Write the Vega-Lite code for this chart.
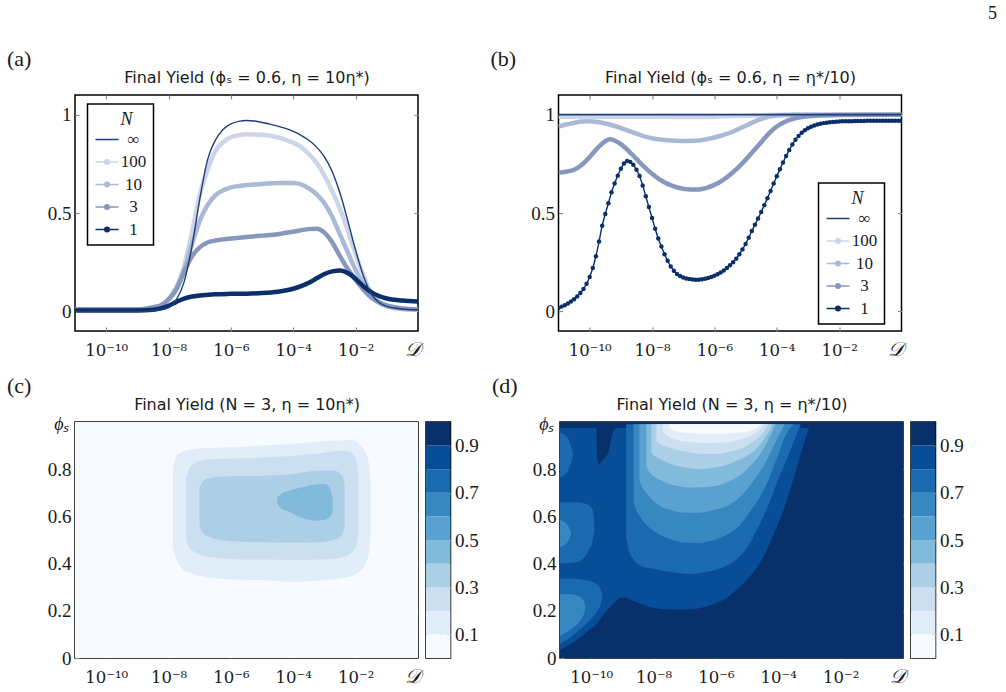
{
"$schema": "https://vega.github.io/schema/vega-lite/v6.json",
"background": "white",
"padding": {"left": 6, "top": 4, "right": 0, "bottom": 0},
"title": {"text": "5", "anchor": "end", "font": "Liberation Serif", "fontSize": 18, "fontWeight": "normal", "color": "#1a1a1a", "offset": 25, "dx": 33},
"config": {
  "font": "Liberation Serif",
  "view": {"stroke": "#000", "strokeWidth": 1.5},
  "axis": {"domain": false, "grid": false, "ticks": true, "tickColor": "#8a8a8a", "tickWidth": 1.2, "tickSize": -4, "labelFont": "Liberation Serif", "labelFontSize": 19, "labelColor": "#1a1a1a", "labelPadding": 8, "labelFlush": false, "labelOverlap": false, "titleFont": "Liberation Serif", "titleFontWeight": "normal", "titleFontSize": 18, "titleColor": "#1a1a1a"},
  "axisBottom": {"labelFont": "DejaVu Serif", "labelFontSize": 16.5, "labelPadding": 15},
  "title": {"font": "Liberation Serif", "fontSize": 22, "fontWeight": "normal", "color": "#1a1a1a"}
},
"datasets": {
"la": [
{"N":"∞","e":-11,"Y":0},{"N":"∞","e":-10,"Y":0},{"N":"∞","e":-9,"Y":0},{"N":"∞","e":-8.5,"Y":0.002},{"N":"∞","e":-8.25,"Y":0.008},{"N":"∞","e":-8,"Y":0.02},{"N":"∞","e":-7.75,"Y":0.06},{"N":"∞","e":-7.5,"Y":0.15},{"N":"∞","e":-7.25,"Y":0.33},{"N":"∞","e":-7,"Y":0.57},{"N":"∞","e":-6.75,"Y":0.77},{"N":"∞","e":-6.5,"Y":0.87},{"N":"∞","e":-6.25,"Y":0.925},{"N":"∞","e":-6,"Y":0.953},{"N":"∞","e":-5.75,"Y":0.966},{"N":"∞","e":-5.5,"Y":0.97},{"N":"∞","e":-5.25,"Y":0.968},{"N":"∞","e":-5,"Y":0.96},{"N":"∞","e":-4.75,"Y":0.952},{"N":"∞","e":-4.5,"Y":0.942},{"N":"∞","e":-4.25,"Y":0.93},{"N":"∞","e":-4,"Y":0.915},{"N":"∞","e":-3.75,"Y":0.895},{"N":"∞","e":-3.5,"Y":0.87},{"N":"∞","e":-3.25,"Y":0.835},{"N":"∞","e":-3,"Y":0.785},{"N":"∞","e":-2.75,"Y":0.71},{"N":"∞","e":-2.5,"Y":0.6},{"N":"∞","e":-2.25,"Y":0.46},{"N":"∞","e":-2,"Y":0.31},{"N":"∞","e":-1.75,"Y":0.18},{"N":"∞","e":-1.5,"Y":0.09},{"N":"∞","e":-1.25,"Y":0.045},{"N":"∞","e":-1,"Y":0.025},{"N":"∞","e":-0.5,"Y":0.012},{"N":"∞","e":0,"Y":0.008},
{"N":"100","e":-11,"Y":0.01},{"N":"100","e":-10,"Y":0.01},{"N":"100","e":-9,"Y":0.01},{"N":"100","e":-8.5,"Y":0.02},{"N":"100","e":-8.25,"Y":0.03},{"N":"100","e":-8,"Y":0.06},{"N":"100","e":-7.75,"Y":0.12},{"N":"100","e":-7.5,"Y":0.23},{"N":"100","e":-7.25,"Y":0.4},{"N":"100","e":-7,"Y":0.59},{"N":"100","e":-6.75,"Y":0.72},{"N":"100","e":-6.5,"Y":0.815},{"N":"100","e":-6.25,"Y":0.86},{"N":"100","e":-6,"Y":0.885},{"N":"100","e":-5.75,"Y":0.895},{"N":"100","e":-5.5,"Y":0.9},{"N":"100","e":-5,"Y":0.898},{"N":"100","e":-4.5,"Y":0.885},{"N":"100","e":-4.25,"Y":0.872},{"N":"100","e":-4,"Y":0.858},{"N":"100","e":-3.75,"Y":0.835},{"N":"100","e":-3.5,"Y":0.8},{"N":"100","e":-3.25,"Y":0.755},{"N":"100","e":-3,"Y":0.69},{"N":"100","e":-2.75,"Y":0.61},{"N":"100","e":-2.5,"Y":0.52},{"N":"100","e":-2.25,"Y":0.41},{"N":"100","e":-2,"Y":0.29},{"N":"100","e":-1.75,"Y":0.18},{"N":"100","e":-1.5,"Y":0.095},{"N":"100","e":-1.25,"Y":0.05},{"N":"100","e":-1,"Y":0.028},{"N":"100","e":-0.5,"Y":0.012},{"N":"100","e":0,"Y":0.008},
{"N":"10","e":-11,"Y":0.01},{"N":"10","e":-10,"Y":0.01},{"N":"10","e":-9,"Y":0.01},{"N":"10","e":-8.5,"Y":0.02},{"N":"10","e":-8.25,"Y":0.03},{"N":"10","e":-8,"Y":0.06},{"N":"10","e":-7.75,"Y":0.12},{"N":"10","e":-7.5,"Y":0.21},{"N":"10","e":-7.25,"Y":0.34},{"N":"10","e":-7,"Y":0.46},{"N":"10","e":-6.75,"Y":0.54},{"N":"10","e":-6.5,"Y":0.59},{"N":"10","e":-6.25,"Y":0.615},{"N":"10","e":-6,"Y":0.63},{"N":"10","e":-5.5,"Y":0.642},{"N":"10","e":-5,"Y":0.648},{"N":"10","e":-4.5,"Y":0.653},{"N":"10","e":-4,"Y":0.652},{"N":"10","e":-3.75,"Y":0.645},{"N":"10","e":-3.5,"Y":0.625},{"N":"10","e":-3.25,"Y":0.595},{"N":"10","e":-3,"Y":0.55},{"N":"10","e":-2.75,"Y":0.48},{"N":"10","e":-2.5,"Y":0.39},{"N":"10","e":-2.25,"Y":0.3},{"N":"10","e":-2,"Y":0.21},{"N":"10","e":-1.75,"Y":0.135},{"N":"10","e":-1.5,"Y":0.08},{"N":"10","e":-1.25,"Y":0.045},{"N":"10","e":-1,"Y":0.025},{"N":"10","e":-0.5,"Y":0.012},{"N":"10","e":0,"Y":0.01},
{"N":"3","e":-11,"Y":0.01},{"N":"3","e":-10,"Y":0.01},{"N":"3","e":-9,"Y":0.01},{"N":"3","e":-8.5,"Y":0.02},{"N":"3","e":-8.25,"Y":0.03},{"N":"3","e":-8,"Y":0.06},{"N":"3","e":-7.75,"Y":0.11},{"N":"3","e":-7.5,"Y":0.2},{"N":"3","e":-7.25,"Y":0.28},{"N":"3","e":-7,"Y":0.325},{"N":"3","e":-6.75,"Y":0.35},{"N":"3","e":-6.5,"Y":0.36},{"N":"3","e":-6,"Y":0.37},{"N":"3","e":-5.5,"Y":0.378},{"N":"3","e":-5,"Y":0.385},{"N":"3","e":-4.5,"Y":0.392},{"N":"3","e":-4,"Y":0.405},{"N":"3","e":-3.5,"Y":0.418},{"N":"3","e":-3.25,"Y":0.42},{"N":"3","e":-3,"Y":0.4},{"N":"3","e":-2.75,"Y":0.35},{"N":"3","e":-2.5,"Y":0.28},{"N":"3","e":-2.25,"Y":0.215},{"N":"3","e":-2,"Y":0.16},{"N":"3","e":-1.75,"Y":0.11},{"N":"3","e":-1.5,"Y":0.07},{"N":"3","e":-1.25,"Y":0.045},{"N":"3","e":-1,"Y":0.03},{"N":"3","e":-0.5,"Y":0.015},{"N":"3","e":0,"Y":0.01},
{"N":"1","e":-11,"Y":0.004},{"N":"1","e":-10,"Y":0.004},{"N":"1","e":-9,"Y":0.004},{"N":"1","e":-8.5,"Y":0.008},{"N":"1","e":-8.25,"Y":0.015},{"N":"1","e":-8,"Y":0.028},{"N":"1","e":-7.75,"Y":0.048},{"N":"1","e":-7.5,"Y":0.065},{"N":"1","e":-7.25,"Y":0.075},{"N":"1","e":-7,"Y":0.08},{"N":"1","e":-6.5,"Y":0.087},{"N":"1","e":-6,"Y":0.089},{"N":"1","e":-5.5,"Y":0.09},{"N":"1","e":-5,"Y":0.093},{"N":"1","e":-4.5,"Y":0.1},{"N":"1","e":-4,"Y":0.115},{"N":"1","e":-3.75,"Y":0.128},{"N":"1","e":-3.5,"Y":0.145},{"N":"1","e":-3.25,"Y":0.168},{"N":"1","e":-3,"Y":0.19},{"N":"1","e":-2.75,"Y":0.203},{"N":"1","e":-2.5,"Y":0.208},{"N":"1","e":-2.25,"Y":0.195},{"N":"1","e":-2,"Y":0.165},{"N":"1","e":-1.75,"Y":0.128},{"N":"1","e":-1.5,"Y":0.098},{"N":"1","e":-1.25,"Y":0.078},{"N":"1","e":-1,"Y":0.065},{"N":"1","e":-0.5,"Y":0.055},{"N":"1","e":0,"Y":0.05}
],
"lb": [
{"N":"∞","e":-11,"Y":1},{"N":"∞","e":0,"Y":1},
{"N":"100","e":-11,"Y":0.99},{"N":"100","e":-9,"Y":0.99},{"N":"100","e":-7,"Y":0.988},{"N":"100","e":-6,"Y":0.99},{"N":"100","e":-5,"Y":0.995},{"N":"100","e":-4,"Y":0.999},{"N":"100","e":-3,"Y":1},{"N":"100","e":0,"Y":1},
{"N":"10","e":-11,"Y":0.94},{"N":"10","e":-10.75,"Y":0.95},{"N":"10","e":-10.5,"Y":0.958},{"N":"10","e":-10.25,"Y":0.965},{"N":"10","e":-10,"Y":0.967},{"N":"10","e":-9.75,"Y":0.963},{"N":"10","e":-9.5,"Y":0.955},{"N":"10","e":-9.25,"Y":0.945},{"N":"10","e":-9,"Y":0.932},{"N":"10","e":-8.75,"Y":0.918},{"N":"10","e":-8.5,"Y":0.903},{"N":"10","e":-8.25,"Y":0.89},{"N":"10","e":-8,"Y":0.88},{"N":"10","e":-7.5,"Y":0.87},{"N":"10","e":-7,"Y":0.866},{"N":"10","e":-6.75,"Y":0.867},{"N":"10","e":-6.5,"Y":0.869},{"N":"10","e":-6.25,"Y":0.875},{"N":"10","e":-6,"Y":0.884},{"N":"10","e":-5.75,"Y":0.895},{"N":"10","e":-5.5,"Y":0.908},{"N":"10","e":-5.25,"Y":0.925},{"N":"10","e":-5,"Y":0.944},{"N":"10","e":-4.75,"Y":0.962},{"N":"10","e":-4.5,"Y":0.978},{"N":"10","e":-4.25,"Y":0.99},{"N":"10","e":-4,"Y":0.996},{"N":"10","e":-3.5,"Y":0.999},{"N":"10","e":-3,"Y":1},{"N":"10","e":0,"Y":1},
{"N":"3","e":-11,"Y":0.706},{"N":"3","e":-10.75,"Y":0.71},{"N":"3","e":-10.5,"Y":0.72},{"N":"3","e":-10.25,"Y":0.745},{"N":"3","e":-10,"Y":0.785},{"N":"3","e":-9.75,"Y":0.83},{"N":"3","e":-9.5,"Y":0.865},{"N":"3","e":-9.35,"Y":0.875},{"N":"3","e":-9.25,"Y":0.872},{"N":"3","e":-9,"Y":0.85},{"N":"3","e":-8.75,"Y":0.815},{"N":"3","e":-8.5,"Y":0.775},{"N":"3","e":-8.25,"Y":0.735},{"N":"3","e":-8,"Y":0.7},{"N":"3","e":-7.75,"Y":0.67},{"N":"3","e":-7.5,"Y":0.648},{"N":"3","e":-7.25,"Y":0.633},{"N":"3","e":-7,"Y":0.623},{"N":"3","e":-6.75,"Y":0.619},{"N":"3","e":-6.5,"Y":0.62},{"N":"3","e":-6.25,"Y":0.628},{"N":"3","e":-6,"Y":0.643},{"N":"3","e":-5.75,"Y":0.665},{"N":"3","e":-5.5,"Y":0.695},{"N":"3","e":-5.25,"Y":0.73},{"N":"3","e":-5,"Y":0.77},{"N":"3","e":-4.75,"Y":0.815},{"N":"3","e":-4.5,"Y":0.86},{"N":"3","e":-4.25,"Y":0.905},{"N":"3","e":-4,"Y":0.94},{"N":"3","e":-3.75,"Y":0.963},{"N":"3","e":-3.5,"Y":0.978},{"N":"3","e":-3.25,"Y":0.987},{"N":"3","e":-3,"Y":0.992},{"N":"3","e":-2.5,"Y":0.996},{"N":"3","e":-2,"Y":0.998},{"N":"3","e":0,"Y":1},
{"N":"1","e":-11,"Y":0.017},{"N":"1","e":-10.9,"Y":0.024},{"N":"1","e":-10.8,"Y":0.031},{"N":"1","e":-10.7,"Y":0.04},{"N":"1","e":-10.6,"Y":0.05},{"N":"1","e":-10.5,"Y":0.062},{"N":"1","e":-10.4,"Y":0.076},{"N":"1","e":-10.3,"Y":0.093},{"N":"1","e":-10.2,"Y":0.113},{"N":"1","e":-10.1,"Y":0.14},{"N":"1","e":-10,"Y":0.175},{"N":"1","e":-9.9,"Y":0.22},{"N":"1","e":-9.8,"Y":0.28},{"N":"1","e":-9.7,"Y":0.355},{"N":"1","e":-9.6,"Y":0.435},{"N":"1","e":-9.5,"Y":0.495},{"N":"1","e":-9.4,"Y":0.55},{"N":"1","e":-9.3,"Y":0.605},{"N":"1","e":-9.2,"Y":0.65},{"N":"1","e":-9.1,"Y":0.69},{"N":"1","e":-9,"Y":0.725},{"N":"1","e":-8.9,"Y":0.752},{"N":"1","e":-8.8,"Y":0.765},{"N":"1","e":-8.7,"Y":0.76},{"N":"1","e":-8.6,"Y":0.745},{"N":"1","e":-8.5,"Y":0.72},{"N":"1","e":-8.4,"Y":0.688},{"N":"1","e":-8.3,"Y":0.64},{"N":"1","e":-8.2,"Y":0.585},{"N":"1","e":-8.1,"Y":0.53},{"N":"1","e":-8,"Y":0.475},{"N":"1","e":-7.9,"Y":0.42},{"N":"1","e":-7.8,"Y":0.37},{"N":"1","e":-7.7,"Y":0.33},{"N":"1","e":-7.6,"Y":0.29},{"N":"1","e":-7.5,"Y":0.257},{"N":"1","e":-7.4,"Y":0.228},{"N":"1","e":-7.3,"Y":0.206},{"N":"1","e":-7.2,"Y":0.19},{"N":"1","e":-7.1,"Y":0.18},{"N":"1","e":-7,"Y":0.172},{"N":"1","e":-6.9,"Y":0.167},{"N":"1","e":-6.8,"Y":0.164},{"N":"1","e":-6.7,"Y":0.162},{"N":"1","e":-6.6,"Y":0.161},{"N":"1","e":-6.5,"Y":0.161},{"N":"1","e":-6.4,"Y":0.163},{"N":"1","e":-6.3,"Y":0.166},{"N":"1","e":-6.2,"Y":0.17},{"N":"1","e":-6.1,"Y":0.175},{"N":"1","e":-6,"Y":0.181},{"N":"1","e":-5.9,"Y":0.188},{"N":"1","e":-5.8,"Y":0.197},{"N":"1","e":-5.7,"Y":0.208},{"N":"1","e":-5.6,"Y":0.22},{"N":"1","e":-5.5,"Y":0.234},{"N":"1","e":-5.4,"Y":0.25},{"N":"1","e":-5.3,"Y":0.268},{"N":"1","e":-5.2,"Y":0.29},{"N":"1","e":-5.1,"Y":0.315},{"N":"1","e":-5,"Y":0.343},{"N":"1","e":-4.9,"Y":0.374},{"N":"1","e":-4.8,"Y":0.408},{"N":"1","e":-4.7,"Y":0.44},{"N":"1","e":-4.6,"Y":0.472},{"N":"1","e":-4.5,"Y":0.505},{"N":"1","e":-4.4,"Y":0.54},{"N":"1","e":-4.3,"Y":0.575},{"N":"1","e":-4.2,"Y":0.612},{"N":"1","e":-4.1,"Y":0.65},{"N":"1","e":-4,"Y":0.687},{"N":"1","e":-3.9,"Y":0.722},{"N":"1","e":-3.8,"Y":0.757},{"N":"1","e":-3.7,"Y":0.79},{"N":"1","e":-3.6,"Y":0.82},{"N":"1","e":-3.5,"Y":0.848},{"N":"1","e":-3.4,"Y":0.872},{"N":"1","e":-3.3,"Y":0.892},{"N":"1","e":-3.2,"Y":0.908},{"N":"1","e":-3.1,"Y":0.921},{"N":"1","e":-3,"Y":0.931},{"N":"1","e":-2.9,"Y":0.939},{"N":"1","e":-2.8,"Y":0.945},{"N":"1","e":-2.7,"Y":0.95},{"N":"1","e":-2.6,"Y":0.954},{"N":"1","e":-2.5,"Y":0.957},{"N":"1","e":-2.4,"Y":0.959},{"N":"1","e":-2.3,"Y":0.961},{"N":"1","e":-2.2,"Y":0.963},{"N":"1","e":-2.1,"Y":0.964},{"N":"1","e":-2,"Y":0.965},{"N":"1","e":-1.9,"Y":0.966},{"N":"1","e":-1.8,"Y":0.966},{"N":"1","e":-1.7,"Y":0.967},{"N":"1","e":-1.6,"Y":0.967},{"N":"1","e":-1.5,"Y":0.968},{"N":"1","e":-1.4,"Y":0.968},{"N":"1","e":-1.3,"Y":0.968},{"N":"1","e":-1.2,"Y":0.968},{"N":"1","e":-1.1,"Y":0.969},{"N":"1","e":-1,"Y":0.969},{"N":"1","e":-0.9,"Y":0.969},{"N":"1","e":-0.8,"Y":0.969},{"N":"1","e":-0.7,"Y":0.969},{"N":"1","e":-0.6,"Y":0.969},{"N":"1","e":-0.5,"Y":0.969},{"N":"1","e":-0.4,"Y":0.969},{"N":"1","e":-0.3,"Y":0.969},{"N":"1","e":-0.2,"Y":0.969},{"N":"1","e":-0.1,"Y":0.969},{"N":"1","e":0,"Y":0.969}
],
"cc": [
{"s":"00","v":0,"e":-11,"lo":0,"hi":1},{"s":"00","v":0,"e":0,"lo":0,"hi":1},
{"s":"01","v":1,"e":-7.86,"lo":0.47,"hi":0.79},{"s":"01","v":1,"e":-7.78,"lo":0.43,"hi":0.85},{"s":"01","v":1,"e":-7.6,"lo":0.385,"hi":0.872},{"s":"01","v":1,"e":-7.3,"lo":0.36,"hi":0.882},{"s":"01","v":1,"e":-7,"lo":0.348,"hi":0.888},{"s":"01","v":1,"e":-6,"lo":0.333,"hi":0.893},{"s":"01","v":1,"e":-5,"lo":0.33,"hi":0.9},{"s":"01","v":1,"e":-4,"lo":0.322,"hi":0.908},{"s":"01","v":1,"e":-3,"lo":0.33,"hi":0.918},{"s":"01","v":1,"e":-2.5,"lo":0.337,"hi":0.922},{"s":"01","v":1,"e":-2.2,"lo":0.345,"hi":0.925},{"s":"01","v":1,"e":-2,"lo":0.355,"hi":0.92},{"s":"01","v":1,"e":-1.8,"lo":0.375,"hi":0.895},{"s":"01","v":1,"e":-1.65,"lo":0.41,"hi":0.86},{"s":"01","v":1,"e":-1.57,"lo":0.45,"hi":0.82},{"s":"01","v":1,"e":-1.52,"lo":0.52,"hi":0.75},
{"s":"02","v":2,"e":-7.44,"lo":0.5,"hi":0.76},{"s":"02","v":2,"e":-7.35,"lo":0.47,"hi":0.8},{"s":"02","v":2,"e":-7.1,"lo":0.445,"hi":0.83},{"s":"02","v":2,"e":-6.8,"lo":0.43,"hi":0.84},{"s":"02","v":2,"e":-6,"lo":0.42,"hi":0.845},{"s":"02","v":2,"e":-5,"lo":0.417,"hi":0.85},{"s":"02","v":2,"e":-4,"lo":0.415,"hi":0.857},{"s":"02","v":2,"e":-3,"lo":0.418,"hi":0.87},{"s":"02","v":2,"e":-2.5,"lo":0.425,"hi":0.878},{"s":"02","v":2,"e":-2.2,"lo":0.44,"hi":0.875},{"s":"02","v":2,"e":-2.05,"lo":0.46,"hi":0.855},{"s":"02","v":2,"e":-1.95,"lo":0.49,"hi":0.82},{"s":"02","v":2,"e":-1.91,"lo":0.53,"hi":0.78},
{"s":"03","v":3,"e":-7.01,"lo":0.56,"hi":0.72},{"s":"03","v":3,"e":-6.9,"lo":0.53,"hi":0.75},{"s":"03","v":3,"e":-6.6,"lo":0.51,"hi":0.765},{"s":"03","v":3,"e":-6,"lo":0.495,"hi":0.77},{"s":"03","v":3,"e":-5,"lo":0.49,"hi":0.772},{"s":"03","v":3,"e":-4,"lo":0.488,"hi":0.78},{"s":"03","v":3,"e":-3.2,"lo":0.49,"hi":0.795},{"s":"03","v":3,"e":-2.7,"lo":0.5,"hi":0.795},{"s":"03","v":3,"e":-2.45,"lo":0.52,"hi":0.775},{"s":"03","v":3,"e":-2.35,"lo":0.56,"hi":0.74},
{"s":"04","v":4,"e":-4.52,"lo":0.655,"hi":0.678},{"s":"04","v":4,"e":-4.4,"lo":0.635,"hi":0.695},{"s":"04","v":4,"e":-4.17,"lo":0.622,"hi":0.708},{"s":"04","v":4,"e":-3.74,"lo":0.595,"hi":0.722},{"s":"04","v":4,"e":-3.31,"lo":0.582,"hi":0.735},{"s":"04","v":4,"e":-3,"lo":0.585,"hi":0.737},{"s":"04","v":4,"e":-2.85,"lo":0.595,"hi":0.725},{"s":"04","v":4,"e":-2.74,"lo":0.62,"hi":0.68}
],
"cd": [
{"s":"00","v":9,"e":-11,"lo":0,"hi":1},{"s":"00","v":9,"e":0,"lo":0,"hi":1},
{"s":"01","v":8,"e":-11,"lo":0.035,"hi":0.975},{"s":"01","v":8,"e":-10.44,"lo":0.078,"hi":0.975},{"s":"01","v":8,"e":-10.1,"lo":0.115,"hi":0.975},{"s":"01","v":8,"e":-9.8,"lo":0.148,"hi":0.975},{"s":"01","v":8,"e":-9.6,"lo":0.185,"hi":0.975},{"s":"01","v":8,"e":-9.37,"lo":0.219,"hi":0.975},{"s":"01","v":8,"e":-9.05,"lo":0.254,"hi":0.975},{"s":"01","v":8,"e":-8.9,"lo":0.255,"hi":0.975},{"s":"01","v":8,"e":-8.73,"lo":0.247,"hi":0.975},{"s":"01","v":8,"e":-8.45,"lo":0.232,"hi":0.975},{"s":"01","v":8,"e":-8.19,"lo":0.219,"hi":0.975},{"s":"01","v":8,"e":-7.66,"lo":0.207,"hi":0.975},{"s":"01","v":8,"e":-7,"lo":0.205,"hi":0.975},{"s":"01","v":8,"e":-6.5,"lo":0.212,"hi":0.975},{"s":"01","v":8,"e":-5.97,"lo":0.234,"hi":0.975},{"s":"01","v":8,"e":-5.6,"lo":0.26,"hi":0.975},{"s":"01","v":8,"e":-5.33,"lo":0.29,"hi":0.975},{"s":"01","v":8,"e":-4.9,"lo":0.347,"hi":0.975},{"s":"01","v":8,"e":-4.6,"lo":0.4,"hi":0.975},{"s":"01","v":8,"e":-4.36,"lo":0.46,"hi":0.975},{"s":"01","v":8,"e":-4.1,"lo":0.54,"hi":0.975},{"s":"01","v":8,"e":-3.82,"lo":0.63,"hi":0.975},{"s":"01","v":8,"e":-3.6,"lo":0.72,"hi":0.975},{"s":"01","v":8,"e":-3.39,"lo":0.814,"hi":0.975},{"s":"01","v":8,"e":-3.2,"lo":0.9,"hi":0.975},{"s":"01","v":8,"e":-3.01,"lo":0.975,"hi":0.975},
{"s":"02","v":9,"e":-9.83,"lo":0.975,"hi":1},{"s":"02","v":9,"e":-9.8,"lo":0.84,"hi":1},{"s":"02","v":9,"e":-9.75,"lo":0.82,"hi":1},{"s":"02","v":9,"e":-9.68,"lo":0.83,"hi":1},{"s":"02","v":9,"e":-9.58,"lo":0.845,"hi":1},{"s":"02","v":9,"e":-9.5,"lo":0.858,"hi":1},{"s":"02","v":9,"e":-9.42,"lo":0.885,"hi":1},{"s":"02","v":9,"e":-9.36,"lo":0.93,"hi":1},{"s":"02","v":9,"e":-9.28,"lo":0.962,"hi":1},{"s":"02","v":9,"e":-9.2,"lo":0.975,"hi":1},
{"s":"03","v":7,"e":-11,"lo":0.765,"hi":0.955},{"s":"03","v":7,"e":-10.85,"lo":0.775,"hi":0.945},{"s":"03","v":7,"e":-10.72,"lo":0.8,"hi":0.925},{"s":"03","v":7,"e":-10.62,"lo":0.84,"hi":0.885},{"s":"03","v":7,"e":-10.58,"lo":0.862,"hi":0.863},
{"s":"04","v":7,"e":-11,"lo":0.4,"hi":0.66},{"s":"04","v":7,"e":-10.5,"lo":0.405,"hi":0.66},{"s":"04","v":7,"e":-10.2,"lo":0.43,"hi":0.655},{"s":"04","v":7,"e":-10.05,"lo":0.465,"hi":0.645},{"s":"04","v":7,"e":-9.95,"lo":0.5,"hi":0.625},{"s":"04","v":7,"e":-9.9,"lo":0.545,"hi":0.58},
{"s":"05","v":6,"e":-11,"lo":0.47,"hi":0.585},{"s":"05","v":6,"e":-10.85,"lo":0.48,"hi":0.575},{"s":"05","v":6,"e":-10.72,"lo":0.5,"hi":0.555},{"s":"05","v":6,"e":-10.64,"lo":0.525,"hi":0.53},
{"s":"06","v":7,"e":-11,"lo":0.06,"hi":0.335},{"s":"06","v":7,"e":-10.7,"lo":0.085,"hi":0.337},{"s":"06","v":7,"e":-10.44,"lo":0.113,"hi":0.335},{"s":"06","v":7,"e":-10.2,"lo":0.14,"hi":0.33},{"s":"06","v":7,"e":-10,"lo":0.165,"hi":0.325},{"s":"06","v":7,"e":-9.8,"lo":0.2,"hi":0.31},{"s":"06","v":7,"e":-9.68,"lo":0.235,"hi":0.285},{"s":"06","v":7,"e":-9.64,"lo":0.26,"hi":0.262},
{"s":"07","v":6,"e":-11,"lo":0.095,"hi":0.27},{"s":"07","v":6,"e":-10.66,"lo":0.12,"hi":0.27},{"s":"07","v":6,"e":-10.4,"lo":0.15,"hi":0.262},{"s":"07","v":6,"e":-10.25,"lo":0.18,"hi":0.245},{"s":"07","v":6,"e":-10.18,"lo":0.21,"hi":0.22},
{"s":"08","v":7,"e":-8.88,"lo":0.52,"hi":0.99},{"s":"08","v":7,"e":-8.8,"lo":0.46,"hi":0.99},{"s":"08","v":7,"e":-8.62,"lo":0.415,"hi":0.99},{"s":"08","v":7,"e":-8.4,"lo":0.39,"hi":0.99},{"s":"08","v":7,"e":-8.1,"lo":0.38,"hi":0.99},{"s":"08","v":7,"e":-7.7,"lo":0.37,"hi":0.99},{"s":"08","v":7,"e":-7.2,"lo":0.36,"hi":0.99},{"s":"08","v":7,"e":-6.8,"lo":0.356,"hi":0.99},{"s":"08","v":7,"e":-6.4,"lo":0.362,"hi":0.99},{"s":"08","v":7,"e":-5.97,"lo":0.375,"hi":0.99},{"s":"08","v":7,"e":-5.6,"lo":0.395,"hi":0.99},{"s":"08","v":7,"e":-5.33,"lo":0.418,"hi":0.99},{"s":"08","v":7,"e":-5.1,"lo":0.45,"hi":0.99},{"s":"08","v":7,"e":-4.9,"lo":0.489,"hi":0.99},{"s":"08","v":7,"e":-4.7,"lo":0.54,"hi":0.99},{"s":"08","v":7,"e":-4.47,"lo":0.602,"hi":0.99},{"s":"08","v":7,"e":-4.25,"lo":0.67,"hi":0.99},{"s":"08","v":7,"e":-4.04,"lo":0.744,"hi":0.99},{"s":"08","v":7,"e":-3.8,"lo":0.82,"hi":0.99},{"s":"08","v":7,"e":-3.6,"lo":0.885,"hi":0.99},{"s":"08","v":7,"e":-3.45,"lo":0.935,"hi":0.99},{"s":"08","v":7,"e":-3.28,"lo":0.99,"hi":0.99},
{"s":"09","v":6,"e":-8.64,"lo":0.66,"hi":0.99},{"s":"09","v":6,"e":-8.55,"lo":0.625,"hi":0.99},{"s":"09","v":6,"e":-8.45,"lo":0.602,"hi":0.99},{"s":"09","v":6,"e":-8.2,"lo":0.56,"hi":0.99},{"s":"09","v":6,"e":-7.91,"lo":0.531,"hi":0.99},{"s":"09","v":6,"e":-7.5,"lo":0.505,"hi":0.99},{"s":"09","v":6,"e":-7.05,"lo":0.489,"hi":0.99},{"s":"09","v":6,"e":-6.6,"lo":0.487,"hi":0.99},{"s":"09","v":6,"e":-6.19,"lo":0.496,"hi":0.99},{"s":"09","v":6,"e":-5.85,"lo":0.51,"hi":0.99},{"s":"09","v":6,"e":-5.54,"lo":0.531,"hi":0.99},{"s":"09","v":6,"e":-5.25,"lo":0.56,"hi":0.99},{"s":"09","v":6,"e":-5,"lo":0.602,"hi":0.99},{"s":"09","v":6,"e":-4.8,"lo":0.64,"hi":0.99},{"s":"09","v":6,"e":-4.57,"lo":0.687,"hi":0.99},{"s":"09","v":6,"e":-4.35,"lo":0.745,"hi":0.99},{"s":"09","v":6,"e":-4.14,"lo":0.814,"hi":0.99},{"s":"09","v":6,"e":-3.95,"lo":0.88,"hi":0.99},{"s":"09","v":6,"e":-3.77,"lo":0.942,"hi":0.99},{"s":"09","v":6,"e":-3.62,"lo":0.975,"hi":0.99},{"s":"09","v":6,"e":-3.5,"lo":0.99,"hi":0.99},
{"s":"10","v":5,"e":-8.45,"lo":0.75,"hi":0.99},{"s":"10","v":5,"e":-8.35,"lo":0.72,"hi":0.99},{"s":"10","v":5,"e":-8.23,"lo":0.7,"hi":0.99},{"s":"10","v":5,"e":-8,"lo":0.665,"hi":0.99},{"s":"10","v":5,"e":-7.8,"lo":0.645,"hi":0.99},{"s":"10","v":5,"e":-7.4,"lo":0.625,"hi":0.99},{"s":"10","v":5,"e":-7.05,"lo":0.616,"hi":0.99},{"s":"10","v":5,"e":-6.6,"lo":0.615,"hi":0.99},{"s":"10","v":5,"e":-6.19,"lo":0.623,"hi":0.99},{"s":"10","v":5,"e":-5.85,"lo":0.635,"hi":0.99},{"s":"10","v":5,"e":-5.54,"lo":0.652,"hi":0.99},{"s":"10","v":5,"e":-5.25,"lo":0.68,"hi":0.99},{"s":"10","v":5,"e":-5,"lo":0.715,"hi":0.99},{"s":"10","v":5,"e":-4.75,"lo":0.76,"hi":0.99},{"s":"10","v":5,"e":-4.47,"lo":0.814,"hi":0.99},{"s":"10","v":5,"e":-4.25,"lo":0.87,"hi":0.99},{"s":"10","v":5,"e":-4.04,"lo":0.928,"hi":0.99},{"s":"10","v":5,"e":-3.9,"lo":0.965,"hi":0.99},{"s":"10","v":5,"e":-3.8,"lo":0.99,"hi":0.99},
{"s":"11","v":4,"e":-8.23,"lo":0.81,"hi":0.99},{"s":"11","v":4,"e":-8.12,"lo":0.785,"hi":0.99},{"s":"11","v":4,"e":-8.02,"lo":0.772,"hi":0.99},{"s":"11","v":4,"e":-7.75,"lo":0.752,"hi":0.99},{"s":"11","v":4,"e":-7.48,"lo":0.737,"hi":0.99},{"s":"11","v":4,"e":-7.1,"lo":0.726,"hi":0.99},{"s":"11","v":4,"e":-6.83,"lo":0.722,"hi":0.99},{"s":"11","v":4,"e":-6.4,"lo":0.724,"hi":0.99},{"s":"11","v":4,"e":-5.97,"lo":0.73,"hi":0.99},{"s":"11","v":4,"e":-5.65,"lo":0.745,"hi":0.99},{"s":"11","v":4,"e":-5.33,"lo":0.765,"hi":0.99},{"s":"11","v":4,"e":-5.05,"lo":0.793,"hi":0.99},{"s":"11","v":4,"e":-4.79,"lo":0.829,"hi":0.99},{"s":"11","v":4,"e":-4.55,"lo":0.87,"hi":0.99},{"s":"11","v":4,"e":-4.36,"lo":0.914,"hi":0.99},{"s":"11","v":4,"e":-4.2,"lo":0.955,"hi":0.99},{"s":"11","v":4,"e":-4.08,"lo":0.99,"hi":0.99},
{"s":"12","v":3,"e":-8.07,"lo":0.87,"hi":0.99},{"s":"12","v":3,"e":-7.95,"lo":0.855,"hi":0.99},{"s":"12","v":3,"e":-7.8,"lo":0.843,"hi":0.99},{"s":"12","v":3,"e":-7.5,"lo":0.825,"hi":0.99},{"s":"12","v":3,"e":-7.26,"lo":0.815,"hi":0.99},{"s":"12","v":3,"e":-6.9,"lo":0.805,"hi":0.99},{"s":"12","v":3,"e":-6.51,"lo":0.8,"hi":0.99},{"s":"12","v":3,"e":-6.1,"lo":0.805,"hi":0.99},{"s":"12","v":3,"e":-5.76,"lo":0.815,"hi":0.99},{"s":"12","v":3,"e":-5.4,"lo":0.832,"hi":0.99},{"s":"12","v":3,"e":-5,"lo":0.857,"hi":0.99},{"s":"12","v":3,"e":-4.75,"lo":0.88,"hi":0.99},{"s":"12","v":3,"e":-4.57,"lo":0.906,"hi":0.99},{"s":"12","v":3,"e":-4.4,"lo":0.94,"hi":0.99},{"s":"12","v":3,"e":-4.25,"lo":0.97,"hi":0.99},{"s":"12","v":3,"e":-4.18,"lo":0.99,"hi":0.99},
{"s":"13","v":2,"e":-7.91,"lo":0.92,"hi":0.99},{"s":"13","v":2,"e":-7.75,"lo":0.905,"hi":0.99},{"s":"13","v":2,"e":-7.48,"lo":0.892,"hi":0.99},{"s":"13","v":2,"e":-7.2,"lo":0.88,"hi":0.99},{"s":"13","v":2,"e":-6.83,"lo":0.871,"hi":0.99},{"s":"13","v":2,"e":-6.4,"lo":0.865,"hi":0.99},{"s":"13","v":2,"e":-5.97,"lo":0.864,"hi":0.99},{"s":"13","v":2,"e":-5.55,"lo":0.875,"hi":0.99},{"s":"13","v":2,"e":-5.11,"lo":0.892,"hi":0.99},{"s":"13","v":2,"e":-4.85,"lo":0.913,"hi":0.99},{"s":"13","v":2,"e":-4.57,"lo":0.942,"hi":0.99},{"s":"13","v":2,"e":-4.45,"lo":0.96,"hi":0.99},{"s":"13","v":2,"e":-4.33,"lo":0.99,"hi":0.99},
{"s":"14","v":1,"e":-7.7,"lo":0.955,"hi":0.99},{"s":"14","v":1,"e":-7.55,"lo":0.94,"hi":0.99},{"s":"14","v":1,"e":-7.37,"lo":0.928,"hi":0.99},{"s":"14","v":1,"e":-6.95,"lo":0.917,"hi":0.99},{"s":"14","v":1,"e":-6.51,"lo":0.911,"hi":0.99},{"s":"14","v":1,"e":-6.1,"lo":0.911,"hi":0.99},{"s":"14","v":1,"e":-5.65,"lo":0.914,"hi":0.99},{"s":"14","v":1,"e":-5.25,"lo":0.926,"hi":0.99},{"s":"14","v":1,"e":-4.9,"lo":0.942,"hi":0.99},{"s":"14","v":1,"e":-4.65,"lo":0.962,"hi":0.99},{"s":"14","v":1,"e":-4.45,"lo":0.99,"hi":0.99},
{"s":"15","v":0,"e":-7.5,"lo":0.978,"hi":0.99},{"s":"15","v":0,"e":-7.3,"lo":0.962,"hi":0.99},{"s":"15","v":0,"e":-7.05,"lo":0.956,"hi":0.99},{"s":"15","v":0,"e":-6.5,"lo":0.951,"hi":0.99},{"s":"15","v":0,"e":-5.97,"lo":0.949,"hi":0.99},{"s":"15","v":0,"e":-5.4,"lo":0.953,"hi":0.99},{"s":"15","v":0,"e":-4.9,"lo":0.963,"hi":0.99},{"s":"15","v":0,"e":-4.7,"lo":0.975,"hi":0.99},{"s":"15","v":0,"e":-4.56,"lo":0.99,"hi":0.99}
],
"cb": [
{"v":0,"lo":0,"hi":0.1},{"v":1,"lo":0.1,"hi":0.2},{"v":2,"lo":0.2,"hi":0.3},{"v":3,"lo":0.3,"hi":0.4},{"v":4,"lo":0.4,"hi":0.5},{"v":5,"lo":0.5,"hi":0.6},{"v":6,"lo":0.6,"hi":0.7},{"v":7,"lo":0.7,"hi":0.8},{"v":8,"lo":0.8,"hi":0.9},{"v":9,"lo":0.9,"hi":1}
]
},
"vconcat": [
{
"hconcat": [
{
"width": 343, "height": 236,
"title": {"text": "(a)", "anchor": "start", "frame": "group", "dx": -68, "dy": 6},
"data": {"name": "la"},
"layer": [
{"transform": [{"filter": "datum.N == '100' || datum.N == '10' || datum.N == '3'"}],
 "mark": {"type": "line", "strokeWidth": 4.5, "interpolate": "monotone", "clip": true},
 "encoding": {
  "x": {"field": "e", "type": "quantitative", "scale": {"domain": [-11, 0], "nice": false, "zero": false}, "axis": {"orient": "bottom", "values": [-10, -8, -6, -4, -2], "labelExpr": "datum.value == -10 ? '10⁻¹⁰' : datum.value == -8 ? '10⁻⁸' : datum.value == -6 ? '10⁻⁶' : datum.value == -4 ? '10⁻⁴' : '10⁻²'", "title": "𝒟", "titleX": 345, "titleY": 24, "titleAlign": "right", "titleBaseline": "alphabetic", "titleFontSize": 20, "titleFontStyle": "italic"}},
  "y": {"field": "Y", "type": "quantitative", "scale": {"domain": [-0.1, 1.1], "nice": false, "zero": false}, "axis": {"orient": "left", "values": [0, 0.5, 1], "labelExpr": "format(datum.value, '~g')", "title": null}},
  "stroke": {"field": "N", "type": "nominal", "scale": {"domain": ["∞", "100", "10", "3", "1"], "range": ["#1d3d7b", "#ccd6e8", "#aab9d5", "#8797bd", "#0b2f6b"]},
   "legend": {"title": "N", "orient": "none", "legendX": 12.5, "legendY": 9, "direction": "vertical", "padding": 7, "fillColor": "white", "strokeColor": "black", "titleFont": "Liberation Serif", "titleFontStyle": "italic", "titleFontSize": 18, "titleFontWeight": "normal", "titleColor": "#1a1a1a", "titleAnchor": "middle", "titleAlign": "left", "titlePadding": -2, "labelFont": "Liberation Serif", "labelFontSize": 17, "labelColor": "#1a1a1a", "labelAlign": "center", "labelOffset": 14, "symbolSize": 529, "symbolStrokeWidth": 1.5, "rowPadding": 1.5,
    "encode": {"symbols": {"update": {"shape": {"signal": "datum.value == '∞' ? 'M-1,0L1,0' : 'M-1,0L1,0M0.2,0A0.2,0.2,0,1,1,-0.2,0A0.2,0.2,0,1,1,0.2,0Z'"}, "fill": {"signal": "datum.value == '100' ? '#ccd6e8' : datum.value == '10' ? '#aab9d5' : datum.value == '3' ? '#8797bd' : datum.value == '1' ? '#0b2f6b' : 'transparent'"}, "strokeWidth": {"value": 1.5}}}, "legend": {"update": {"strokeWidth": {"value": 1.5}}}}}}
 }},
{"transform": [{"filter": "datum.N == '1'"}],
 "mark": {"type": "line", "strokeWidth": 4.5, "interpolate": "monotone", "clip": true},
 "encoding": {
  "x": {"field": "e", "type": "quantitative", "axis": null},
  "y": {"field": "Y", "type": "quantitative", "axis": null},
  "stroke": {"field": "N", "type": "nominal"}
 }},
{"transform": [{"filter": "datum.N == '∞'"}],
 "mark": {"type": "line", "strokeWidth": 1.4, "interpolate": "monotone", "clip": true},
 "encoding": {
  "x": {"field": "e", "type": "quantitative", "axis": {"orient": "top", "values": [-10, -8, -6, -4, -2], "labels": false, "title": "Final Yield (ϕₛ = 0.6, η = 10η*)", "titleFont": "DejaVu Sans", "titleFontSize": 16, "titlePadding": 9}},
  "y": {"field": "Y", "type": "quantitative", "axis": {"orient": "right", "values": [0, 0.5, 1], "labels": false, "title": null}},
  "stroke": {"field": "N", "type": "nominal"}
 }}
],
"resolve": {"axis": {"x": "independent", "y": "independent"}}
},
{
"width": 343, "height": 236,
"title": {"text": "(b)", "anchor": "start", "frame": "group", "dx": -68, "dy": 6},
"data": {"name": "lb"},
"layer": [
{"transform": [{"filter": "datum.N == '100' || datum.N == '10' || datum.N == '3'"}],
 "mark": {"type": "line", "strokeWidth": 4.5, "interpolate": "monotone", "clip": true},
 "encoding": {
  "x": {"field": "e", "type": "quantitative", "scale": {"domain": [-11, 0], "nice": false, "zero": false}, "axis": {"orient": "bottom", "values": [-10, -8, -6, -4, -2], "labelExpr": "datum.value == -10 ? '10⁻¹⁰' : datum.value == -8 ? '10⁻⁸' : datum.value == -6 ? '10⁻⁶' : datum.value == -4 ? '10⁻⁴' : '10⁻²'", "title": "𝒟", "titleX": 345, "titleY": 24, "titleAlign": "right", "titleBaseline": "alphabetic", "titleFontSize": 20, "titleFontStyle": "italic"}},
  "y": {"field": "Y", "type": "quantitative", "scale": {"domain": [-0.1, 1.1], "nice": false, "zero": false}, "axis": {"orient": "left", "values": [0, 0.5, 1], "labelExpr": "format(datum.value, '~g')", "title": null}},
  "stroke": {"field": "N", "type": "nominal", "scale": {"domain": ["∞", "100", "10", "3", "1"], "range": ["#1d3d7b", "#ccd6e8", "#aab9d5", "#8797bd", "#0b2f6b"]},
   "legend": {"title": "N", "orient": "none", "legendX": 260, "legendY": 88, "direction": "vertical", "padding": 7, "fillColor": "white", "strokeColor": "black", "titleFont": "Liberation Serif", "titleFontStyle": "italic", "titleFontSize": 18, "titleFontWeight": "normal", "titleColor": "#1a1a1a", "titleAnchor": "middle", "titleAlign": "left", "titlePadding": -2, "labelFont": "Liberation Serif", "labelFontSize": 17, "labelColor": "#1a1a1a", "labelAlign": "center", "labelOffset": 14, "symbolSize": 529, "symbolStrokeWidth": 1.5, "rowPadding": 1.5,
    "encode": {"symbols": {"update": {"shape": {"signal": "datum.value == '∞' ? 'M-1,0L1,0' : 'M-1,0L1,0M0.2,0A0.2,0.2,0,1,1,-0.2,0A0.2,0.2,0,1,1,0.2,0Z'"}, "fill": {"signal": "datum.value == '100' ? '#ccd6e8' : datum.value == '10' ? '#aab9d5' : datum.value == '3' ? '#8797bd' : datum.value == '1' ? '#0b2f6b' : 'transparent'"}, "strokeWidth": {"value": 1.5}}}, "legend": {"update": {"strokeWidth": {"value": 1.5}}}}}}
 }},
{"transform": [{"filter": "datum.N == '1'"}],
 "mark": {"type": "line", "strokeWidth": 1.4, "interpolate": "monotone", "clip": true},
 "encoding": {
  "x": {"field": "e", "type": "quantitative", "axis": null},
  "y": {"field": "Y", "type": "quantitative", "axis": null},
  "stroke": {"field": "N", "type": "nominal"}
 }},
{"transform": [{"filter": "datum.N == '1'"}],
 "mark": {"type": "point", "filled": true, "size": 20, "opacity": 1, "color": "#0b2f6b", "clip": true},
 "encoding": {
  "x": {"field": "e", "type": "quantitative", "axis": null},
  "y": {"field": "Y", "type": "quantitative", "axis": null}
 }},
{"transform": [{"filter": "datum.N == '∞'"}],
 "mark": {"type": "line", "strokeWidth": 1.6, "clip": true},
 "encoding": {
  "x": {"field": "e", "type": "quantitative", "axis": {"orient": "top", "values": [-10, -8, -6, -4, -2], "labels": false, "title": "Final Yield (ϕₛ = 0.6, η = η*/10)", "titleFont": "DejaVu Sans", "titleFontSize": 16, "titlePadding": 9}},
  "y": {"field": "Y", "type": "quantitative", "axis": {"orient": "right", "values": [0, 0.5, 1], "labels": false, "title": null}},
  "stroke": {"field": "N", "type": "nominal"}
 }}
],
"resolve": {"axis": {"x": "independent", "y": "independent"}}
}
],
"spacing": 140.5,
"bounds": "flush",
"resolve": {"scale": {"stroke": "independent", "color": "independent"}, "legend": {"stroke": "independent"}}
},
{
"hconcat": [
{
"width": 343, "height": 236,
"title": {"text": "(c)", "anchor": "start", "frame": "group", "dx": -68, "dy": 6},
"data": {"name": "cc"},
"layer": [
{"transform": [{"filter": "datum.s == '00'"}],
 "mark": {"type": "area", "orient": "vertical"},
 "encoding": {
  "x": {"field": "e", "type": "quantitative", "scale": {"domain": [-11, 0], "nice": false, "zero": false}, "axis": {"orient": "bottom", "values": [-10, -8, -6, -4, -2], "labelExpr": "datum.value == -10 ? '10⁻¹⁰' : datum.value == -8 ? '10⁻⁸' : datum.value == -6 ? '10⁻⁶' : datum.value == -4 ? '10⁻⁴' : '10⁻²'", "title": "𝒟", "titleX": 345, "titleY": 24, "titleAlign": "right", "titleBaseline": "alphabetic", "titleFontSize": 20, "titleFontStyle": "italic"}},
  "y": {"field": "lo", "type": "quantitative", "scale": {"domain": [0, 1], "nice": false, "zero": false}, "axis": {"orient": "left", "values": [0, 0.2, 0.4, 0.6, 0.8], "labelExpr": "format(datum.value, '~g')", "title": "ϕₛ", "titleAngle": 0, "titleX": -6, "titleY": 2, "titleAlign": "right", "titleBaseline": "middle", "titleFontStyle": "italic", "titleFontSize": 18}},
  "y2": {"field": "hi"},
  "color": {"field": "v", "type": "ordinal", "scale": {"domain": [0, 1, 2, 3, 4, 5, 6, 7, 8, 9], "range": ["#f7fbff", "#e1edf8", "#cbdff1", "#abd0e6", "#82badb", "#59a2cf", "#3787c0", "#1b6aaf", "#084d97", "#08306b"]}, "legend": null}
 }},
{"transform": [{"filter": "datum.s != '00'"}],
 "mark": {"type": "area", "orient": "vertical", "interpolate": "monotone"},
 "encoding": {
  "x": {"field": "e", "type": "quantitative", "axis": {"orient": "top", "values": [-10, -8, -6, -4, -2], "labels": false, "title": "Final Yield (N = 3, η = 10η*)", "titleFont": "DejaVu Sans", "titleFontSize": 16, "titlePadding": 9}},
  "y": {"field": "lo", "type": "quantitative", "axis": {"orient": "right", "values": [0.2, 0.4, 0.6, 0.8], "labels": false, "title": null}},
  "y2": {"field": "hi"},
  "color": {"field": "v", "type": "ordinal", "legend": null},
  "detail": {"field": "s", "type": "nominal"}
 }}
],
"resolve": {"axis": {"x": "independent", "y": "independent"}}
},
{
"width": 24.5, "height": 236,
"data": {"name": "cb"},
"mark": {"type": "rect"},
"encoding": {
 "y": {"field": "lo", "type": "quantitative", "scale": {"domain": [0, 1], "nice": false, "zero": false}, "axis": {"orient": "right", "values": [0.1, 0.3, 0.5, 0.7, 0.9], "labelExpr": "format(datum.value, '~g')", "title": null}},
 "y2": {"field": "hi"},
 "color": {"field": "v", "type": "ordinal", "scale": {"domain": [0, 1, 2, 3, 4, 5, 6, 7, 8, 9], "range": ["#f7fbff", "#e1edf8", "#cbdff1", "#abd0e6", "#82badb", "#59a2cf", "#3787c0", "#1b6aaf", "#084d97", "#08306b"]}, "legend": null}
}
},
{
"width": 92.2, "height": 236,
"view": {"stroke": null},
"data": {"values": []},
"mark": {"type": "point"},
"encoding": {}
},
{
"width": 343, "height": 236,
"title": {"text": "(d)", "anchor": "start", "frame": "group", "dx": -68, "dy": 6},
"data": {"name": "cd"},
"layer": [
{"transform": [{"filter": "datum.s == '00'"}],
 "mark": {"type": "area", "orient": "vertical"},
 "encoding": {
  "x": {"field": "e", "type": "quantitative", "scale": {"domain": [-11, 0], "nice": false, "zero": false}, "axis": {"orient": "bottom", "values": [-10, -8, -6, -4, -2], "labelExpr": "datum.value == -10 ? '10⁻¹⁰' : datum.value == -8 ? '10⁻⁸' : datum.value == -6 ? '10⁻⁶' : datum.value == -4 ? '10⁻⁴' : '10⁻²'", "title": "𝒟", "titleX": 345, "titleY": 24, "titleAlign": "right", "titleBaseline": "alphabetic", "titleFontSize": 20, "titleFontStyle": "italic"}},
  "y": {"field": "lo", "type": "quantitative", "scale": {"domain": [0, 1], "nice": false, "zero": false}, "axis": {"orient": "left", "values": [0, 0.2, 0.4, 0.6, 0.8], "labelExpr": "format(datum.value, '~g')", "title": "ϕₛ", "titleAngle": 0, "titleX": -6, "titleY": 2, "titleAlign": "right", "titleBaseline": "middle", "titleFontStyle": "italic", "titleFontSize": 18}},
  "y2": {"field": "hi"},
  "color": {"field": "v", "type": "ordinal", "scale": {"domain": [0, 1, 2, 3, 4, 5, 6, 7, 8, 9], "range": ["#f7fbff", "#e1edf8", "#cbdff1", "#abd0e6", "#82badb", "#59a2cf", "#3787c0", "#1b6aaf", "#084d97", "#08306b"]}, "legend": null}
 }},
{"transform": [{"filter": "datum.s != '00'"}],
 "mark": {"type": "area", "orient": "vertical", "interpolate": "monotone"},
 "encoding": {
  "x": {"field": "e", "type": "quantitative", "axis": {"orient": "top", "values": [-10, -8, -6, -4, -2], "labels": false, "title": "Final Yield (N = 3, η = η*/10)", "titleFont": "DejaVu Sans", "titleFontSize": 16, "titlePadding": 9}},
  "y": {"field": "lo", "type": "quantitative", "axis": {"orient": "right", "values": [0.2, 0.4, 0.6, 0.8], "labels": false, "title": null}},
  "y2": {"field": "hi"},
  "color": {"field": "v", "type": "ordinal", "legend": null},
  "detail": {"field": "s", "type": "nominal"}
 }}
],
"resolve": {"axis": {"x": "independent", "y": "independent"}}
},
{
"width": 24.5, "height": 236,
"data": {"name": "cb"},
"mark": {"type": "rect"},
"encoding": {
 "y": {"field": "lo", "type": "quantitative", "scale": {"domain": [0, 1], "nice": false, "zero": false}, "axis": {"orient": "right", "values": [0.1, 0.3, 0.5, 0.7, 0.9], "labelExpr": "format(datum.value, '~g')", "title": null}},
 "y2": {"field": "hi"},
 "color": {"field": "v", "type": "ordinal", "scale": {"domain": [0, 1, 2, 3, 4, 5, 6, 7, 8, 9], "range": ["#f7fbff", "#e1edf8", "#cbdff1", "#abd0e6", "#82badb", "#59a2cf", "#3787c0", "#1b6aaf", "#084d97", "#08306b"]}, "legend": null}
}
}
],
"spacing": 8,
"bounds": "flush",
"resolve": {"scale": {"color": "independent", "y": "independent"}}
}
],
"spacing": 14,
"resolve": {"scale": {"stroke": "independent", "color": "independent"}, "legend": {"stroke": "independent"}}
}
